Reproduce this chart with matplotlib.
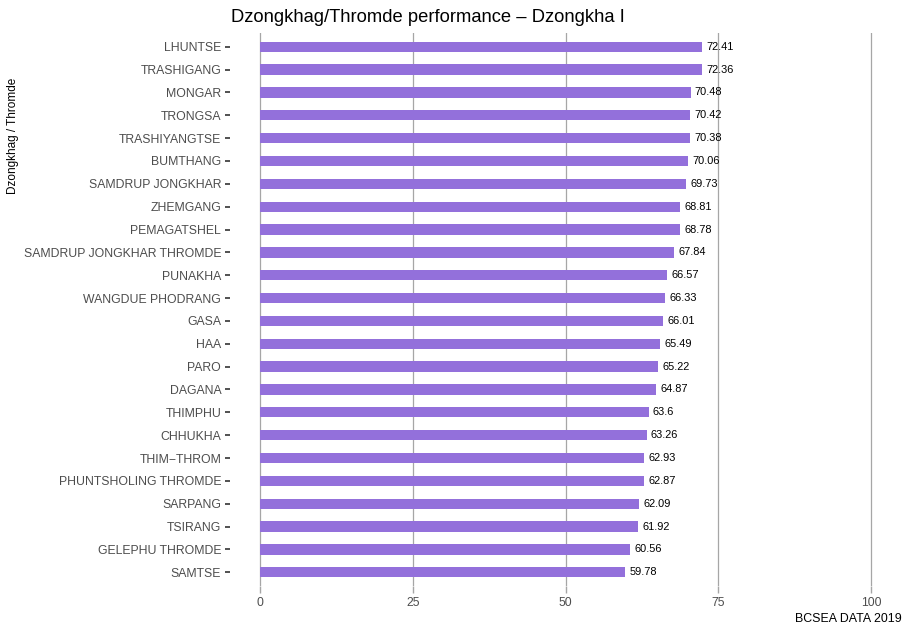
import matplotlib.pyplot as plt

plt.rcParams['font.family'] = ['Liberation Sans', 'DejaVu Sans']

# Data (top to bottom as shown)
regions = ['LHUNTSE', 'TRASHIGANG', 'MONGAR', 'TRONGSA', 'TRASHIYANGTSE', 'BUMTHANG',
           'SAMDRUP JONGKHAR', 'ZHEMGANG', 'PEMAGATSHEL', 'SAMDRUP JONGKHAR THROMDE',
           'PUNAKHA', 'WANGDUE PHODRANG', 'GASA', 'HAA', 'PARO', 'DAGANA', 'THIMPHU',
           'CHHUKHA', 'THIM\u2212THROM', 'PHUNTSHOLING THROMDE', 'SARPANG', 'TSIRANG',
           'GELEPHU THROMDE', 'SAMTSE']
scores = [72.41, 72.36, 70.48, 70.42, 70.38, 70.06, 69.73, 68.81, 68.78, 67.84,
          66.57, 66.33, 66.01, 65.49, 65.22, 64.87, 63.6, 63.26, 62.93, 62.87,
          62.09, 61.92, 60.56, 59.78]
score_labels = ['72.41', '72.36', '70.48', '70.42', '70.38', '70.06', '69.73', '68.81',
                '68.78', '67.84', '66.57', '66.33', '66.01', '65.49', '65.22', '64.87',
                '63.6', '63.26', '62.93', '62.87', '62.09', '61.92', '60.56', '59.78']
xticks = [0, 25, 50, 75, 100]

fig = plt.figure(figsize=(9.05, 6.28), dpi=100)
# panel spans a little past 0 and 100, like ggplot's default expansion
ax = fig.add_axes([229.5 / 905, 1 - 586 / 628, 672 / 905, 553 / 628])

n = len(regions)
ypos = list(range(n))[::-1]
ax.barh(ypos, scores, height=0.45, color='#9370DB', zorder=2)

for y, v, lab in zip(ypos, scores, score_labels):
    ax.text(v + 0.7, y, lab, va='center', ha='left', fontsize=7.9, color='black', zorder=3)

ax.set_xlim(-5, 105)
ax.set_ylim(-0.6, n - 0.4)
ax.set_yticks(ypos)
ax.set_yticklabels(regions)
ax.set_xticks(xticks)
ax.set_xticklabels([str(t) for t in xticks])

ax.grid(axis='x', color='#a6a6a6', linewidth=0.9, zorder=0)
ax.set_axisbelow(True)
for s in ax.spines.values():
    s.set_visible(False)

ax.tick_params(axis='y', length=3.5, width=1.2, color='#333333', labelsize=8.8,
               labelcolor='#4d4d4d', pad=2.5)
ax.tick_params(axis='x', length=5, width=1.0, color='#a6a6a6', labelsize=8.8,
               labelcolor='#4d4d4d', pad=3)

fig.text(13 / 905, 1 - 136 / 628, 'Dzongkhag / Thromde', rotation=90,
         ha='center', va='center', fontsize=8.5, color='black')
fig.text(428 / 905, 1 - 17 / 628, 'Dzongkhag/Thromde performance \u2013 Dzongkha I',
         ha='center', va='center', fontsize=13.2, color='black')
fig.text(902 / 905, 1 - 619 / 628, 'BCSEA DATA 2019', ha='right', va='center',
         fontsize=8.9, color='black')

fig.savefig('out.png', dpi=100)
